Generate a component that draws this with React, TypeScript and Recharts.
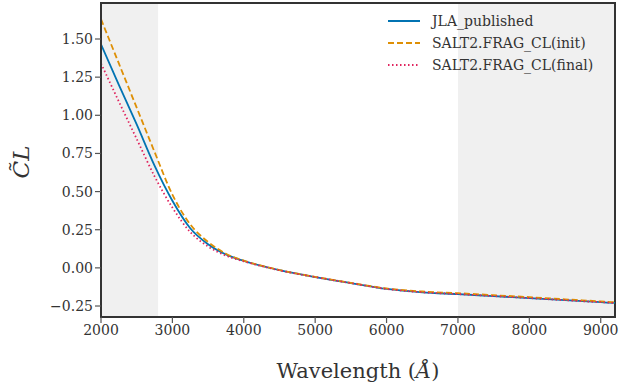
import React from "react";
import {
  LineChart,
  Line,
  XAxis,
  YAxis,
  ReferenceArea,
  Label,
} from "recharts";

// wavelengths (Angstrom) and colour-law values
const wavelengths = [
  2000, 2250, 2500, 2750, 3000, 3250, 3500, 3750, 4000, 4500, 5000, 5500,
  6000, 6500, 7000, 7500, 8000, 8500, 9000, 9200,
];
const jlaPublished = [
  1.465, 1.2, 0.94, 0.67, 0.44, 0.26, 0.155, 0.088, 0.046, -0.015, -0.06,
  -0.1, -0.138, -0.16, -0.172, -0.185, -0.198, -0.212, -0.225, -0.23,
];
const fragInit = [
  1.63, 1.34, 1.05, 0.76, 0.48, 0.285, 0.17, 0.093, 0.048, -0.014, -0.059,
  -0.098, -0.135, -0.155, -0.166, -0.179, -0.192, -0.206, -0.22, -0.226,
];
const fragFinal = [
  1.34, 1.09, 0.845, 0.6, 0.395, 0.235, 0.14, 0.08, 0.043, -0.016, -0.06,
  -0.1, -0.138, -0.16, -0.172, -0.185, -0.198, -0.212, -0.225, -0.23,
];

const xTicks = [2000, 3000, 4000, 5000, 6000, 7000, 8000, 9000];
const yTicks = [-0.25, 0, 0.25, 0.5, 0.75, 1.0, 1.25, 1.5];
const xDomain = [2000, 9200];
const yDomain = [-0.322, 1.736];
const shadedBands = [
  [2000, 2800],
  [7000, 9200],
];

const series = [
  { key: "jla", name: "JLA_published", color: "#0173b2", dash: undefined },
  { key: "init", name: "SALT2.FRAG_CL(init)", color: "#de8f05", dash: "6 3" },
  { key: "final", name: "SALT2.FRAG_CL(final)", color: "#e0245e", dash: "1.5 2.5" },
];

const data = wavelengths.map((w, i) => ({
  wl: w,
  jla: jlaPublished[i],
  init: fragInit[i],
  final: fragFinal[i],
}));

const FONT = "DejaVu Serif";
const INK = "#333333";

const fmtY = (v: number) =>
  v < 0 ? "\u2212" + Math.abs(v).toFixed(2) : v.toFixed(2);

// drawn over the plot; a recharts Legend would reserve space at the top
const LegendBox: React.FC = () => (
  <div
    style={{
      position: "absolute",
      left: 387,
      top: 10,
      fontSize: 14,
      color: INK,
      fontFamily: FONT,
    }}
  >
    {series.map((s) => (
      <div
        key={s.key}
        style={{ display: "flex", alignItems: "center", height: 22 }}
      >
        <svg width={34} height={10} style={{ marginRight: 11 }}>
          <line
            x1={1}
            y1={5}
            x2={33}
            y2={5}
            stroke={s.color}
            strokeWidth={2}
            strokeDasharray={s.dash}
          />
        </svg>
        <span>{s.name}</span>
      </div>
    ))}
  </div>
);

const App: React.FC = () => {
  return (
    <div
      style={{
        position: "absolute",
        left: 0,
        top: 0,
        background: "#fff",
        fontFamily: FONT,
      }}
    >
      <LineChart
        width={620}
        height={387}
        data={data}
        margin={{ top: 3, right: 5, left: 0, bottom: 0 }}
      >
        {shadedBands.map(([a, b]) => (
          <ReferenceArea
            key={a}
            x1={a}
            x2={b}
            y1={yDomain[0]}
            y2={yDomain[1]}
            fill="#f0f0f0"
            fillOpacity={1}
            stroke="none"
          />
        ))}
        <XAxis
          dataKey="wl"
          type="number"
          domain={xDomain}
          ticks={xTicks}
          allowDataOverflow
          height={70}
          stroke={INK}
          strokeWidth={2}
          tickSize={6}
          tickLine={{ stroke: "#555", strokeWidth: 1.2 }}
          tick={{ fill: INK, fontSize: 14, fontFamily: FONT }}
        >
          <Label
            content={() => (
              <text
                x={358}
                y={378}
                textAnchor="middle"
                fill={INK}
                fontFamily={FONT}
                fontSize={21}
              >
                Wavelength (<tspan fontStyle="italic">Å</tspan>)
              </text>
            )}
          />
        </XAxis>
        <YAxis
          type="number"
          domain={yDomain}
          ticks={yTicks}
          allowDataOverflow
          width={101}
          stroke={INK}
          strokeWidth={2}
          tickSize={6}
          tickLine={{ stroke: "#555", strokeWidth: 1.2 }}
          tickFormatter={fmtY}
          tick={{ fill: INK, fontSize: 14, fontFamily: FONT }}
        >
          <Label
            content={() => (
              <text
                x={0}
                y={0}
                transform="translate(29,162) rotate(-90)"
                textAnchor="middle"
                fill={INK}
                fontFamily={FONT}
                fontStyle="italic"
                fontSize={23}
              >
                C̃L
              </text>
            )}
          />
        </YAxis>
        <ReferenceArea
          x1={xDomain[0]}
          x2={xDomain[1]}
          y1={yDomain[0]}
          y2={yDomain[1]}
          fill="none"
          stroke={INK}
          strokeWidth={2}
        />
        {series.map((s) => (
          <Line
            key={s.key}
            type="monotone"
            dataKey={s.key}
            name={s.name}
            stroke={s.color}
            strokeWidth={1.8}
            strokeDasharray={s.dash}
            dot={false}
            isAnimationActive={false}
          />
        ))}
      </LineChart>
      <LegendBox />
    </div>
  );
};

export default App;
